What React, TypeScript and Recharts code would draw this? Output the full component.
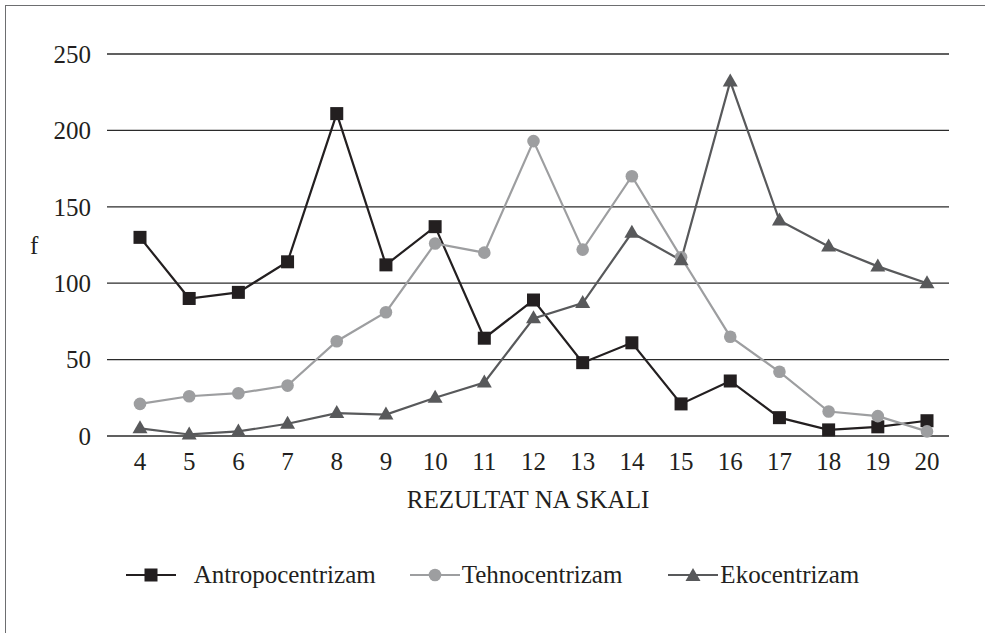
import { LineChart, Line, XAxis, YAxis, CartesianGrid, Legend } from 'recharts'

const scores = [4, 5, 6, 7, 8, 9, 10, 11, 12, 13, 14, 15, 16, 17, 18, 19, 20]
const antropocentrizam = [130, 90, 94, 114, 211, 112, 137, 64, 89, 48, 61, 21, 36, 12, 4, 6, 10]
const tehnocentrizam = [21, 26, 28, 33, 62, 81, 126, 120, 193, 122, 170, 117, 65, 42, 16, 13, 3]
const ekocentrizam = [5, 1, 3, 8, 15, 14, 25, 35, 77, 87, 133, 115, 232, 141, 124, 111, 100]
const yTicks = [0, 50, 100, 150, 200, 250]

const data = scores.map((s, i) => ({
  score: s,
  antro: antropocentrizam[i],
  tehno: tehnocentrizam[i],
  eko: ekocentrizam[i],
}))

const FONT = '"Liberation Serif", "Times New Roman", serif'
const INK = '#231f20'
const C_ANTRO = '#231f20'
const C_TEHNO = '#9d9ea0'
const C_EKO = '#58595b'

function Marker({ kind, cx, cy, color }: { kind: string; cx: number; cy: number; color: string }) {
  if (kind === 'square') return <rect x={cx - 6.5} y={cy - 6.5} width={13} height={13} fill={color} />
  if (kind === 'circle') return <circle cx={cx} cy={cy} r={6.3} fill={color} />
  return <polygon points={`${cx},${cy - 8} ${cx + 7.5},${cy + 5} ${cx - 7.5},${cy + 5}`} fill={color} />
}

const dotFor = (kind: string, color: string) => (p: any) => {
  if (p.cx == null || p.cy == null) return <g key={p.index} />
  return (
    <g key={`${kind}-${p.index}`}>
      <Marker kind={kind} cx={p.cx} cy={p.cy} color={color} />
    </g>
  )
}

const legendItems = [
  { name: 'Antropocentrizam', kind: 'square', color: C_ANTRO, gap: 18, after: 34 },
  { name: 'Tehnocentrizam', kind: 'circle', color: C_TEHNO, gap: 2, after: 46 },
  { name: 'Ekocentrizam', kind: 'triangle', color: C_EKO, gap: 2, after: 0 },
]

function LegendContent() {
  return (
    <div style={{ display: 'flex', justifyContent: 'center', alignItems: 'center', height: 30 }}>
      {legendItems.map((it) => (
        <div key={it.name} style={{ display: 'flex', alignItems: 'center', marginRight: it.after }}>
          <svg width={50} height={20} style={{ marginRight: it.gap }}>
            <line x1={0} y1={10} x2={50} y2={10} stroke={it.color} strokeWidth={2.2} />
            <Marker kind={it.kind} cx={25} cy={it.kind === 'triangle' ? 11 : 10} color={it.color} />
          </svg>
          <span style={{ fontFamily: FONT, fontSize: 25, color: INK, lineHeight: '30px' }}>{it.name}</span>
        </div>
      ))}
    </div>
  )
}

export default function App() {
  return (
    <div style={{ position: 'absolute', left: 0, top: 0, width: 985, height: 633, background: '#fff' }}>
      <div
        style={{
          position: 'absolute',
          left: 5,
          top: 5,
          width: 980,
          height: 628,
          borderTop: '1.5px solid #6d6e70',
          borderLeft: '1.5px solid #6d6e70',
        }}
      />
      <LineChart width={985} height={633} data={data} margin={{ top: 54, right: 36, bottom: 90, left: 25 }}>
        <CartesianGrid vertical={false} stroke="#2b2b2b" strokeWidth={1.3} />
        <XAxis
          dataKey="score"
          type="category"
          axisLine={false}
          tickLine={false}
          tickMargin={10}
          height={77}
          padding={{ left: 33, right: 22 }}
          tick={{ fontFamily: FONT, fontSize: 25, fill: INK }}
          label={{ value: 'REZULTAT NA SKALI', position: 'insideBottom', offset: 5, fontFamily: FONT, fontSize: 25, fill: INK }}
        />
        <YAxis
          domain={[0, 250]}
          ticks={yTicks}
          axisLine={false}
          tickLine={false}
          tickMargin={10}
          width={82}
          tick={{ fontFamily: FONT, fontSize: 25, fill: INK }}
          label={{ value: 'f', angle: 0, position: 'insideLeft', offset: 5, fontFamily: FONT, fontSize: 25, fill: INK }}
        />
        <Legend content={<LegendContent />} wrapperStyle={{ left: 0, width: 985, bottom: 43 }} />
        <Line
          dataKey="antro"
          name="Antropocentrizam"
          stroke={C_ANTRO}
          strokeWidth={2.2}
          dot={dotFor('square', C_ANTRO)}
          isAnimationActive={false}
        />
        <Line
          dataKey="tehno"
          name="Tehnocentrizam"
          stroke={C_TEHNO}
          strokeWidth={2.2}
          dot={dotFor('circle', C_TEHNO)}
          isAnimationActive={false}
        />
        <Line
          dataKey="eko"
          name="Ekocentrizam"
          stroke={C_EKO}
          strokeWidth={2.2}
          dot={dotFor('triangle', C_EKO)}
          isAnimationActive={false}
        />
      </LineChart>
    </div>
  )
}
